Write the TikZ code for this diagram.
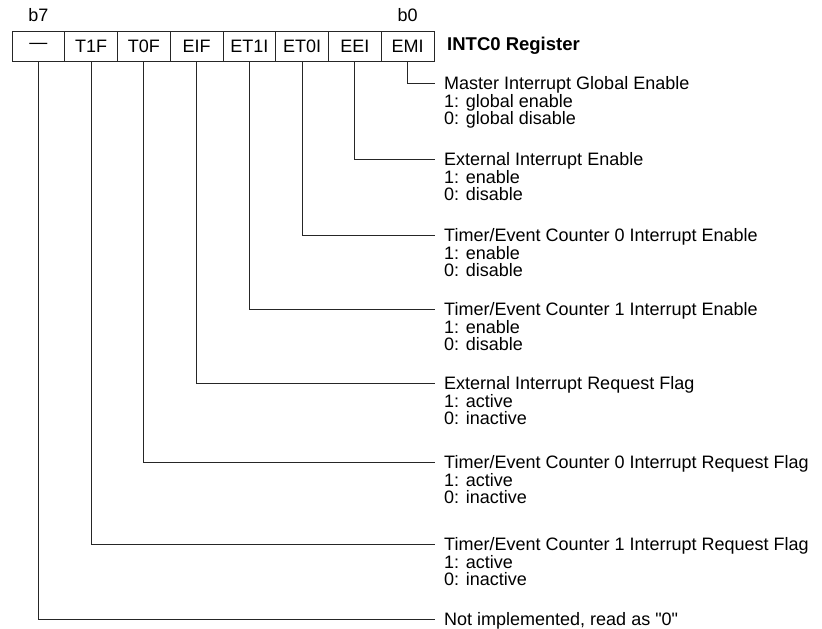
\documentclass[tikz,border=0pt]{standalone}
\usepackage{fontspec}
\setmainfont{Liberation Sans}
\usetikzlibrary{positioning}
\newcommand{\regfont}{\fontsize{18}{17.7}\selectfont}

\begin{document}
\begin{tikzpicture}[x=1pt, y=-1pt, every node/.style={font=\regfont},
  bitcell/.style={draw, line width=1pt, black!85, text=black, outer sep=0pt, inner sep=0pt,
    minimum width=52.75pt, minimum height=30pt},
  desc/.style={anchor=north west, align=left, inner sep=0pt},
  wire/.style={line width=1pt, black!85}]

\useasboundingbox (0,0) rectangle (822,629);

% register cells, b7 on the left
\node[bitcell] (bit7) at (38.4,46) {---};
\foreach \n/\prev/\name in {6/7/T1F, 5/6/T0F, 4/5/EIF, 3/4/ET1I, 2/3/ET0I, 1/2/EEI, 0/1/EMI} {
  \node[bitcell, right=0pt of bit\prev] (bit\n) {\name};
}

\node[above=6pt of bit7] (lbl7) {b7};
\node[above=6pt of bit0] (lbl0) {b0};
\node[anchor=west, inner sep=0pt, font=\fontsize{18.5}{20}\selectfont\bfseries] (title) at (447,46) {INTC0 Register};

% bit descriptions
\foreach \n/\y/\txt in {
  0/83/{Master Interrupt Global Enable\\1: global enable\\0: global disable},
  1/159/{External Interrupt Enable\\1: enable\\0: disable},
  2/235/{Timer/Event Counter 0 Interrupt Enable\\1: enable\\0: disable},
  3/309/{Timer/Event Counter 1 Interrupt Enable\\1: enable\\0: disable},
  4/383/{External Interrupt Request Flag\\1: active\\0: inactive},
  5/462/{Timer/Event Counter 0 Interrupt Request Flag\\1: active\\0: inactive},
  6/544/{Timer/Event Counter 1 Interrupt Request Flag\\1: active\\0: inactive},
  7/619/{Not implemented, read as \textquotedbl0\textquotedbl}} {
  \coordinate (end\n) at (435,\y);
  \node[desc] (desc\n) at (444,\y-6.8) {\txt};
  \draw[wire] (bit\n.south) |- (end\n);
}

\end{tikzpicture}
\end{document}
